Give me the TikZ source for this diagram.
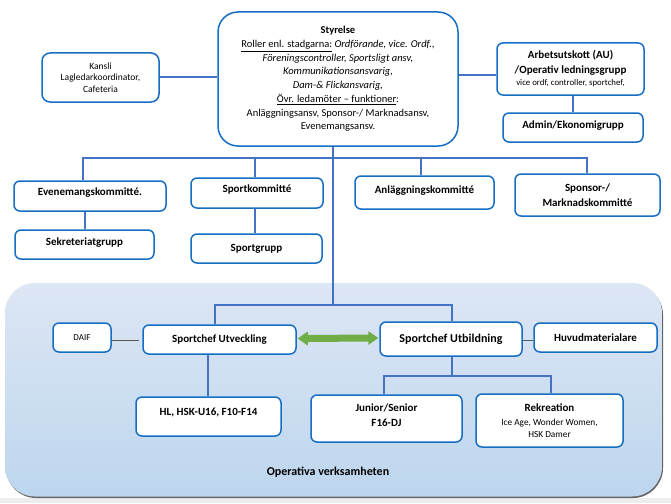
\documentclass[tikz,border=0pt]{standalone}
\usepackage{fontspec}
\setmainfont{Carlito}
\usetikzlibrary{calc}
\definecolor{boxblue}{RGB}{21,110,196}
\definecolor{lineblue}{RGB}{68,114,196}
\definecolor{arrgreen}{RGB}{112,173,71}
\definecolor{bgtop}{RGB}{221,230,244}
\definecolor{bgbot}{RGB}{189,214,238}
\tikzset{
  box/.style={draw=boxblue, line width=1.5pt, fill=white, rounded corners=6pt, align=center, inner sep=2pt, font=\fontsize{11}{13.5}\selectfont\bfseries},
  conn/.style={draw=lineblue, line width=2pt},
  greyconn/.style={draw=black!65, line width=0.9pt},
}
\newcommand{\subtxt}[1]{{\mdseries\fontsize{9.3}{12}\selectfont #1}}
\begin{document}
\begin{tikzpicture}[x=1pt,y=-1pt]
\useasboundingbox (0,0) rectangle (671,503);
\fill[white] (0,0) rectangle (671,503);
% bottom grey strip
\fill[black!7] (0,498) rectangle (671,503);
% background panel with shadow
\fill[black!60, rounded corners=30pt] (6,285) rectangle (663,498);
\shade[top color=bgtop, bottom color=bgbot, rounded corners=30pt] (5,283) rectangle (662,496.5);
\node[font=\fontsize{12}{14}\selectfont\bfseries] (op) at (328,472) {Operativa verksamheten};

% top level
\node[box, font=\fontsize{10.5}{13.7}\selectfont, rounded corners=20pt, minimum width=240pt, minimum height=134pt] (sty) at (338,79)
 {\textbf{Styrelse}\\
  \underline{Roller enl. stadgarna:} \textit{Ordförande, vice. Ordf.,}\\
  \textit{Föreningscontroller, Sportsligt ansv,}\\
  \textit{Kommunikationsansvarig,}\\
  \textit{Dam-\& Flickansvarig,}\\
  \underline{Övr. ledamöter – funktioner}:\\
  Anläggningsansv, Sponsor-/ Marknadsansv,\\
  Evenemangsansv.};
\node[box, font=\fontsize{9.5}{11.5}\selectfont, rounded corners=8pt, minimum width=117pt, minimum height=49pt] (kansli) at (100.5,77.5)
 {Kansli\\Lagledarkoordinator,\\Cafeteria};
\node[box, minimum width=147pt, minimum height=52pt, font=\fontsize{11}{14.5}\selectfont\bfseries] (au) at (570.5,69)
 {Arbetsutskott (AU)\\/Operativ ledningsgrupp\\[-2pt]\mdseries\fontsize{8.8}{10}\selectfont vice ordf, controller, sportchef,};
\node[box, minimum width=140pt, minimum height=29pt, text depth=6.3pt] (admin) at (573,127.5) {Admin/Ekonomigrupp};

% committees
\node[box, minimum width=152pt, minimum height=30pt, text depth=8.3pt] (even) at (90,196) {Evenemangskommitté.};
\node[box, minimum width=132pt, minimum height=30pt, text depth=8.3pt] (sport) at (257,193) {Sportkommitté};
\node[box, minimum width=139pt, minimum height=33pt, text depth=5.3pt] (anl) at (424.5,192.5) {Anläggningskommitté};
\node[box, minimum width=145pt, minimum height=42pt, font=\fontsize{11}{15}\selectfont\bfseries] (spons) at (587.5,195) {Sponsor-/\\Marknadskommitté};
\node[box, minimum width=139pt, minimum height=29pt, text depth=6.3pt] (sekr) at (84.5,244.5) {Sekreteriatgrupp};
\node[box, minimum width=131pt, minimum height=29pt] (sportg) at (256.5,248.5) {Sportgrupp};

% operative
\node[box, minimum width=58pt, minimum height=29pt, font=\fontsize{9}{11}\selectfont] (daif) at (82,337.5) {DAIF};
\node[box, minimum width=153pt, minimum height=29pt] (scu) at (219.5,339.5) {Sportchef Utveckling};
\node[box, minimum width=142pt, minimum height=34pt, font=\fontsize{12}{14}\selectfont\bfseries] (scb) at (451,339) {Sportchef Utbildning};
\node[box, minimum width=123pt, minimum height=29pt] (huvud) at (595.5,337.5) {Huvudmaterialare};
\node[box, minimum width=145pt, minimum height=39pt, text depth=10.5pt] (hl) at (208.5,416.5) {HL, HSK-U16, F10-F14};
\node[box, minimum width=151pt, minimum height=47pt, font=\fontsize{11}{15}\selectfont\bfseries, text depth=6pt] (jun) at (386.5,418.5) {Junior/Senior\\F16-DJ};
\node[box, minimum width=147pt, minimum height=53pt, font=\fontsize{11}{13}\selectfont\bfseries] (rek) at (549.5,420.5)
 {Rekreation\\[1pt]\subtxt{Ice Age, Wonder Women,}\\[-1pt]\subtxt{HSK Damer}};

% connectors top
\draw[conn] (kansli.east |- 0,77) -- (sty.west |- 0,77);
\draw[conn] (sty.east |- 0,75) -- (au.west |- 0,75);
\draw[conn] (admin.north -| 573,0) -- (au.south -| 573,0);
\coordinate (hub) at (333,158);
\coordinate (hub2) at (333,305);
\draw[conn] (sty.south -| hub) -- (hub2);
\draw[conn] (even.north -| 83,0) -- (83,158) -- (587,158) -- (spons.north -| 587,0);
\draw[conn] (sport.north -| 255,0) -- (255,158);
\draw[conn] (anl.north -| 421,0) -- (421,158);
\draw[conn] (even.south -| 85,0) -- (sekr.north -| 85,0);
\draw[conn] (sport.south -| 255,0) -- (sportg.north -| 255,0);

% connectors operative
\draw[conn] (scu.north -| 215,0) -- (215,305) -- (452,305) -- (scb.north -| 452,0);
\draw[greyconn] (daif.east |- 0,340) -- ($(scu.west |- 0,340)+(-3,0)$);
\draw[greyconn] (scb.east |- 0,340) -- (huvud.west |- 0,340);
\draw[conn] (scu.south -| 208,0) -- (hl.north -| 208,0);
\draw[conn] (scb.south -| 452,0) -- (452,376);
\draw[conn] (jun.north -| 384,0) -- (384,376) -- (551,376) -- (rek.north -| 551,0);

% green double arrow
\fill[arrgreen] ($(scu.east)+(1,-1)$)
  -- ++(10,-7) -- ++(0,3.5) -- ($(scb.west)+(-11,-4.5)$) -- ++(0,-3.5) -- ($(scb.west)+(-1,-1)$)
  -- ++(-10,7) -- ++(0,-3.5) -- ($(scu.east)+(11,2.5)$) -- ++(0,3.5) -- cycle;
\end{tikzpicture}
\end{document}
